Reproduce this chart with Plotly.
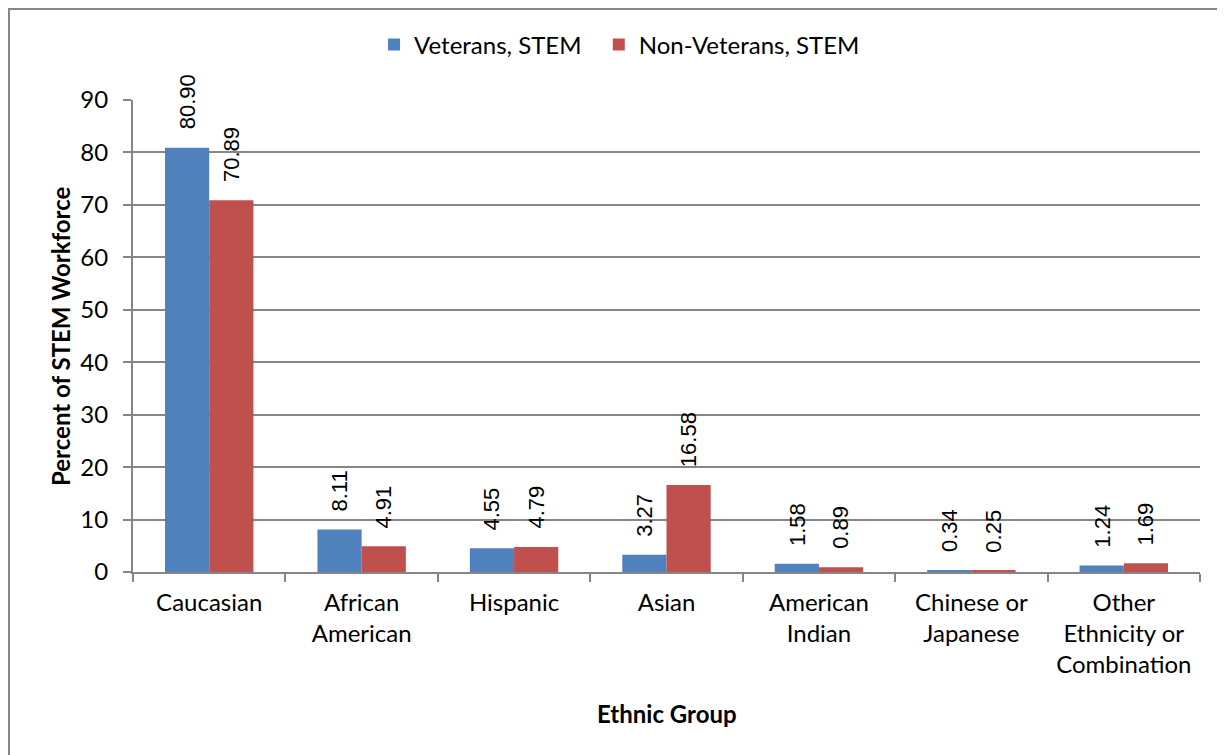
import plotly.graph_objects as go

categories = ["Caucasian", "African<br>American", "Hispanic", "Asian", "American<br>Indian",
              "Chinese or<br>Japanese", "Other<br>Ethnicity or<br>Combination"]
veterans = [80.90, 8.11, 4.55, 3.27, 1.58, 0.34, 1.24]
non_veterans = [70.89, 4.91, 4.79, 16.58, 0.89, 0.25, 1.69]
y_ticks = [0, 10, 20, 30, 40, 50, 60, 70, 80, 90]

FAM = "Lato, Calibri, sans-serif"
TICK_FONT = dict(family=FAM, size=24, color="#000000")
VAL_FONT = dict(family="Liberation Sans, Arial, sans-serif", size=22, color="#000000")
BARGAP = 0.42

# page body adds an 8px offset; margins compensate so the plot area sits at x 133-1200, y 100-572
L, R, T, B = 125, 33, 92, 191
PW = 1225 - L - R
PH = 755 - T - B

fig = go.Figure()
fig.add_trace(go.Bar(x=categories, y=veterans, name="Veterans, STEM\u00a0\u00a0",
                     marker=dict(color="#4F81BD", line=dict(width=0))))
fig.add_trace(go.Bar(x=categories, y=non_veterans, name="Non-Veterans, STEM",
                     marker=dict(color="#C0504D", line=dict(width=0))))

# rotated value labels above each bar
half_bar = PW / len(categories) * (1 - BARGAP) / 4
for series, sign in ((veterans, -1), (non_veterans, 1)):
    for cat, val in zip(categories, series):
        fig.add_annotation(x=cat, y=val, xref="x", yref="y", text=f"{val:.2f}",
                           textangle=-90, showarrow=False, xanchor="center", yanchor="bottom",
                           xshift=sign * half_bar, yshift=16, font=VAL_FONT)

fig.update_layout(
    width=1225, height=755,
    margin=dict(l=L, r=R, t=T, b=B, autoexpand=False),
    paper_bgcolor="white", plot_bgcolor="white",
    barmode="group", bargap=BARGAP, bargroupgap=0,
    legend=dict(orientation="h", x=0.456, xanchor="center", y=(PH + T - 37) / PH, yanchor="middle",
                font=dict(family=FAM, size=24, color="#000000"),
                itemwidth=30, traceorder="normal"),
    font=TICK_FONT,
    showlegend=True,
)
fig.update_xaxes(
    automargin=False,
    showline=True, linecolor="#868686", linewidth=2,
    ticks="outside", tickson="boundaries", ticklen=8, tickcolor="#868686", tickwidth=2,
    tickfont=TICK_FONT, ticklabelstandoff=8,
)
fig.update_yaxes(
    automargin=False,
    range=[0, 90], tickvals=y_ticks, showgrid=True, gridcolor="#868686", gridwidth=1.5,
    showline=True, linecolor="#868686", linewidth=2,
    ticks="outside", ticklen=8, tickcolor="#868686", tickwidth=2,
    tickfont=TICK_FONT, zeroline=False, ticklabelstandoff=10,
)

# axis titles
fig.add_annotation(text="<b>Ethnic Group</b>", xref="paper", yref="paper",
                   x=0.5, y=-(713 - 8 - (T + PH)) / PH, xanchor="center", yanchor="middle",
                   showarrow=False, font=dict(family=FAM, size=24, color="#000000"))
fig.add_annotation(text="<b>Percent of STEM Workforce</b>", xref="paper", yref="paper",
                   x=(60 - 8 - L) / PW, y=0.5, xanchor="center", yanchor="middle",
                   textangle=-90, showarrow=False, font=dict(family=FAM, size=24, color="#000000"))

# outer chart border (left and top edges visible)
fig.add_shape(type="path", xref="paper", yref="paper",
              path=f"M {(1 - L) / PW} -0.6 L {(1 - L) / PW} {(T + PH - 1) / PH} L 1.1 {(T + PH - 1) / PH}",
              line=dict(color="#868686", width=2))

fig.write_html("out.html")
